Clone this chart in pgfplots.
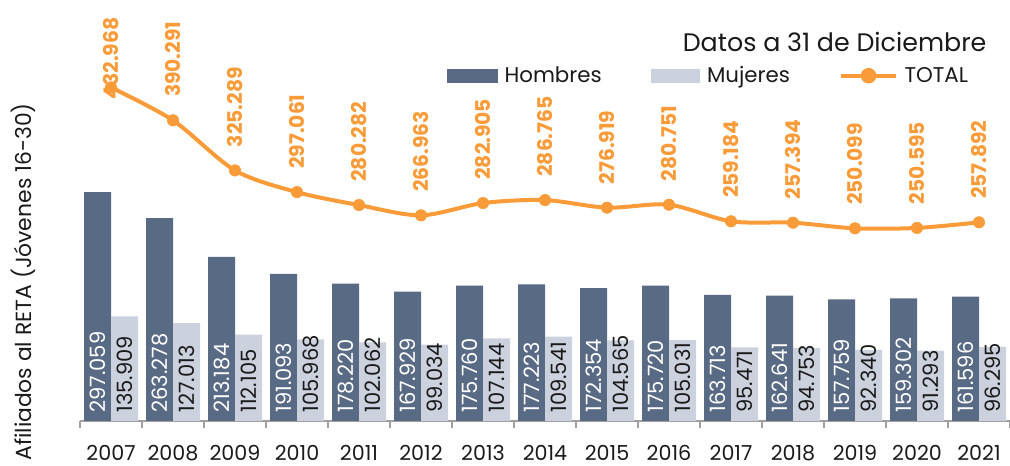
\documentclass[border=0pt]{standalone}
\usepackage{pgfplots}
\pgfplotsset{compat=1.18}
\usepackage{pgfplotstable}
\usepackage{graphicx}
\usepackage{fontspec}
\setmainfont{Poppins}
\definecolor{hom}{HTML}{596A85}
\definecolor{muj}{HTML}{CBD1DD}
\definecolor{tot}{HTML}{F99B38}
\definecolor{axgray}{HTML}{A0A0A0}
\definecolor{txt}{HTML}{1A1A1A}

% values in thousands
\pgfplotstableread{
x year h m t lt
0 2007 297.059 135.909 432.968 417.0
1 2008 263.278 127.013 390.291 420.291
2 2009 213.184 112.105 325.289 355.289
3 2010 191.093 105.968 297.061 327.061
4 2011 178.220 102.062 280.282 310.282
5 2012 167.929 99.034 266.963 296.963
6 2013 175.760 107.144 282.905 312.905
7 2014 177.223 109.541 286.765 316.765
8 2015 172.354 104.565 276.919 306.919
9 2016 175.720 105.031 280.751 310.751
10 2017 163.713 95.471 259.184 289.184
11 2018 162.641 94.753 257.394 287.394
12 2019 157.759 92.340 250.099 280.099
13 2020 159.302 91.293 250.595 280.595
14 2021 161.596 96.295 257.892 287.892
}\datatable

\newcommand{\lblfont}{\fontsize{15.8}{18}\selectfont}
\newcommand{\totfont}{\fontsize{15.2}{18}\selectfont\bfseries}
\newcommand{\legfont}{\fontsize{16}{19}\selectfont}
\newcommand{\rotnum}{\rotatebox{90}{\pgfmathprintnumber[fixed,precision=3,zerofill,assume math mode=true]{\pgfplotspointmeta}}}

\begin{document}
\begin{tikzpicture}
\useasboundingbox (0,0) rectangle (757.5pt,349.5pt);
\begin{axis}[
  at={(60pt,33.75pt)}, anchor=south west,
  scale only axis, width=697.5pt, height=312pt,
  xmin=-0.5, xmax=14.5, ymin=0, ymax=540,
  clip=false,
  axis x line=bottom, axis y line=none,
  axis line style={-, draw=axgray, line width=1.5pt},
  xtick={0,...,14},
  xticklabels={2007,2008,2009,2010,2011,2012,2013,2014,2015,2016,2017,2018,2019,2020,2021},
  major tick length=0pt,
  minor xtick={-0.5,0.5,...,14.5},
  minor tick length=5pt, tick align=outside,
  minor tick style={draw=axgray, line width=1.5pt},
  xticklabel style={anchor=center, yshift=-24pt, font=\fontsize{15.5}{18}\selectfont, text=txt},
  legend columns=3,
  legend style={at={(0.3946,0.8300)}, anchor=west, draw=none, fill=none,
    inner sep=0pt, font=\legfont, text=txt,
    nodes={inner sep=0pt},
    /tikz/every odd column/.append style={column sep=5pt},
    /tikz/every even column/.append style={column sep=37pt}},
]
\addplot[ybar, bar width=20.25pt, bar shift=-10.125pt, fill=hom, draw=none,
  legend image code/.code={\fill[hom] (0pt,-5.25pt) rectangle (38pt,5.25pt);}]
  table[x=x, y=h]{\datatable};
\addlegendentry{Hombres}
\addplot[ybar, bar width=20.25pt, bar shift=10.125pt, fill=muj, draw=none,
  legend image code/.code={\fill[muj] (0pt,-5.25pt) rectangle (37pt,5.25pt);}]
  table[x=x, y=m]{\datatable};
\addlegendentry{Mujeres}
\addplot[smooth, tension=0.5, color=tot, line width=3pt, mark=*, mark size=4.3pt,
  mark options={solid, fill=tot, draw=tot, line width=0.4pt},
  legend image code/.code={\draw[tot, line width=3pt] (0pt,0pt) -- (41pt,0pt);
    \fill[tot] (20.5pt,0pt) circle (4.3pt);}]
  table[x=x, y=t]{\datatable};
\addlegendentry{TOTAL}

% value labels inside bars
\addplot[sharp plot, draw=none, mark=none, forget plot,
  point meta=explicit,
  nodes near coords={\rotnum},
  every node near coord/.append style={anchor=south, inner sep=0pt, font=\lblfont, text=white}]
  table[x expr=\thisrow{x}-0.2177, y expr=10.4, meta=h]{\datatable};
\addplot[sharp plot, draw=none, mark=none, forget plot,
  point meta=explicit,
  nodes near coords={\rotnum},
  every node near coord/.append style={anchor=south, inner sep=0pt, font=\lblfont, text=txt}]
  table[x expr=\thisrow{x}+0.2177, y expr=10.4, meta=m]{\datatable};
% total labels
\addplot[sharp plot, draw=none, mark=none, forget plot,
  point meta=explicit,
  nodes near coords={\rotnum},
  every node near coord/.append style={anchor=south, inner sep=0pt, font=\totfont, text=tot}]
  table[x=x, y=lt, meta=t]{\datatable};
\end{axis}
\node[anchor=base east, inner sep=0pt, font=\fontsize{19}{22}\selectfont, text=txt] at (740pt,310.5pt) {Datos a 31 de Diciembre};
\node[rotate=90, anchor=base east, inner sep=0pt, font=\fontsize{16.4}{19}\selectfont, text=txt] at (24pt,272.25pt) {Afiliados al RETA (Jóvenes 16-30)};
\end{tikzpicture}
\end{document}
